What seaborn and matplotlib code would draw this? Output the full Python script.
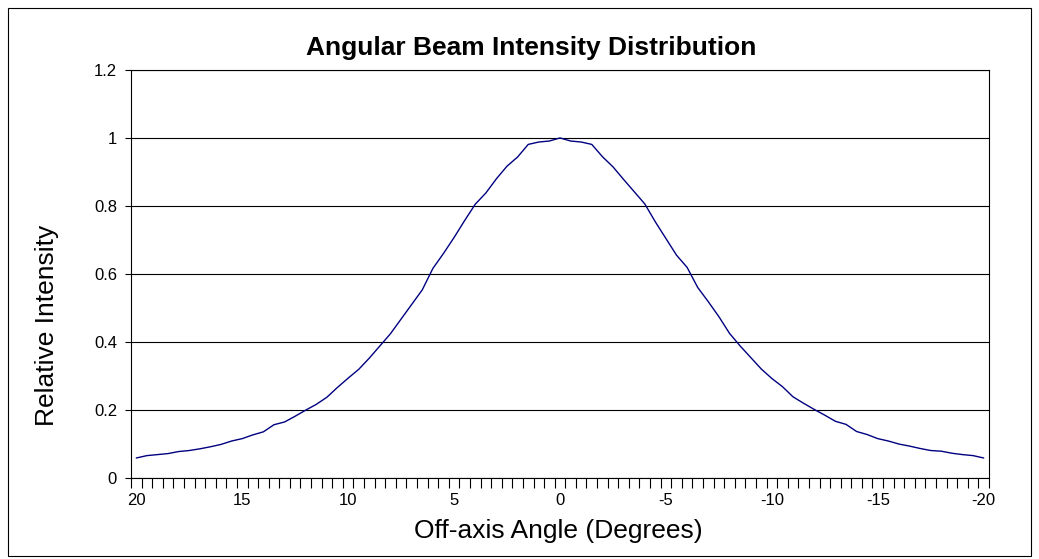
import numpy as np
import pandas as pd
import matplotlib
matplotlib.use("Agg")
import matplotlib.pyplot as plt
import seaborn as sns
from matplotlib.patches import Rectangle
from matplotlib.ticker import FixedLocator

# ---- data -------------------------------------------------------------
angles = np.arange(20, -20.5, -0.5)  # categories, 0.5 degree steps from 20 to -20
intensity = [
    0.058, 0.065, 0.068, 0.071, 0.077, 0.080, 0.085, 0.091, 0.098, 0.108,
    0.115, 0.126, 0.135, 0.156, 0.164, 0.181, 0.199, 0.216, 0.237, 0.266,
    0.293, 0.319, 0.352, 0.388, 0.424, 0.467, 0.510, 0.553, 0.616, 0.660,
    0.707, 0.757, 0.805, 0.838, 0.880, 0.917, 0.944, 0.981, 0.988, 0.991,
    1.000,
    0.991, 0.988, 0.981, 0.945, 0.915, 0.878, 0.842, 0.806, 0.753, 0.704,
    0.655, 0.619, 0.560, 0.518, 0.474, 0.425, 0.388, 0.354, 0.320, 0.292,
    0.268, 0.238, 0.219, 0.201, 0.184, 0.166, 0.157, 0.136, 0.127, 0.115,
    0.108, 0.099, 0.093, 0.086, 0.080, 0.078, 0.072, 0.068, 0.065, 0.058,
]
x_tick_values = [20, 15, 10, 5, 0, -5, -10, -15, -20]
x_tick_labels = ["20", "15", "10", "5", "0", "-5", "-10", "-15", "-20"]
y_tick_values = [0, 0.2, 0.4, 0.6, 0.8, 1.0, 1.2]
y_tick_labels = ["0", "0.2", "0.4", "0.6", "0.8", "1", "1.2"]

title = "Angular Beam Intensity Distribution"
x_label = "Off-axis Angle (Degrees)"
y_label = "Relative Intensity"

df = pd.DataFrame({"angle": angles, "intensity": intensity})

# ---- style ------------------------------------------------------------
sns.set_style("white")
plt.rcParams["font.family"] = ["Liberation Sans", "DejaVu Sans"]
plt.rcParams["axes.unicode_minus"] = False
plt.rcParams["text.color"] = "black"
plt.rcParams["axes.labelcolor"] = "black"
plt.rcParams["xtick.color"] = "black"
plt.rcParams["ytick.color"] = "black"

W, H = 1039, 559
fig = plt.figure(figsize=(W / 100, H / 100), dpi=100)
fig.patch.set_facecolor("white")

left, right, top, bottom = 131, 989, 70, 477.7
ax = fig.add_axes([left / W, 1 - bottom / H, (right - left) / W, (bottom - top) / H])

sns.lineplot(data=df, x="angle", y="intensity", ax=ax, color="#000080",
             linewidth=1.0, legend=False)

ax.set_xlim(20.25, -20.25)
ax.set_ylim(0, 1.2)

# y axis
ax.set_yticks(y_tick_values)
ax.set_yticklabels(y_tick_labels)
ax.tick_params(axis="y", which="major", direction="out", length=4.0, width=0.8,
               color="black", labelcolor="black", pad=6, labelsize=12, left=True)

# x axis: labels at categories, tick marks between categories
ax.set_xticks(x_tick_values)
ax.set_xticklabels(x_tick_labels)
ax.xaxis.set_minor_locator(FixedLocator(np.arange(-20.25, 20.26, 0.5)))
ax.tick_params(axis="x", which="major", length=0, pad=11, labelsize=12,
               labelcolor="black", bottom=True)
ax.tick_params(axis="x", which="minor", direction="out", length=7, width=0.8,
               color="black", bottom=True)

ax.yaxis.grid(True, color="black", linewidth=0.8)
ax.xaxis.grid(False)
for s in ax.spines.values():
    s.set_visible(True)
    s.set_color("black")
    s.set_linewidth(0.8)

ax.set_xlabel(x_label, fontsize=19, color="black")
ax.set_ylabel(y_label, fontsize=19, color="black")
ax.xaxis.set_label_coords((558 - left) / (right - left), (bottom - 531) / (bottom - top))
ax.xaxis.label.set_va("center")
ax.yaxis.set_label_coords((47 - left) / (right - left), (bottom - 325) / (bottom - top))
ax.yaxis.label.set_va("center")
ax.yaxis.label.set_ha("center")

fig.text(531 / W, 1 - 48 / H, title, ha="center", va="center",
         fontsize=19, fontweight="bold", color="black")

# outer chart border
fig.patches.append(Rectangle((7.5 / W, 1 - 556 / H), (1031 - 7.5) / W, (556 - 8) / H,
                             transform=fig.transFigure, fill=False,
                             edgecolor="black", linewidth=0.8))

fig.savefig("out.png", dpi=100, facecolor="white")
